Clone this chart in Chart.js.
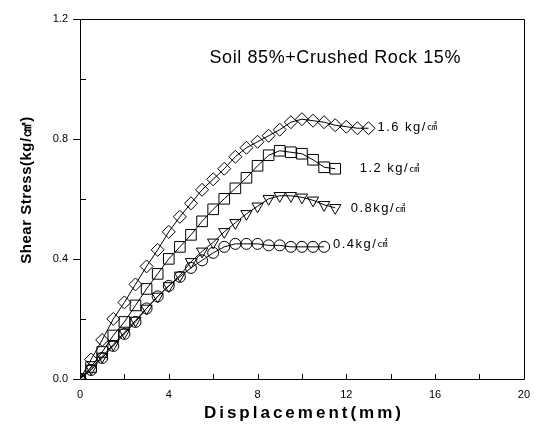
<!DOCTYPE html>
<html>
<head>
<meta charset="utf-8">
<script src="https://cdn.jsdelivr.net/npm/chart.js@4.4.0/dist/chart.umd.min.js"></script>
<style>
  html, body { margin: 0; padding: 0; background: #fff; }
  #wrap { width: 539px; height: 427px; }
</style>
</head>
<body>
<div id="wrap"><canvas id="myChart" width="539" height="427"></canvas></div>
<script>
// data
const dispP16 = [0, 0.5, 1, 1.5, 2, 2.5, 3, 3.5, 4, 4.5, 5, 5.5, 6, 6.5, 7, 7.5, 8, 8.5, 9, 9.5, 10, 10.5, 11, 11.5, 12, 12.5, 13];
const stressP16 = [0, 0.065, 0.13, 0.2, 0.255, 0.315, 0.375, 0.43, 0.49, 0.54, 0.585, 0.63, 0.665, 0.7, 0.74, 0.77, 0.79, 0.81, 0.83, 0.855, 0.865, 0.86, 0.855, 0.845, 0.84, 0.835, 0.835];

const dispP12 = [0, 0.5, 1, 1.5, 2, 2.5, 3, 3.5, 4, 4.5, 5, 5.5, 6, 6.5, 7, 7.5, 8, 8.5, 9, 9.5, 10, 10.5, 11, 11.5];
const stressP12 = [0, 0.04, 0.09, 0.145, 0.19, 0.245, 0.3, 0.35, 0.4, 0.44, 0.48, 0.525, 0.565, 0.6, 0.635, 0.67, 0.71, 0.745, 0.76, 0.755, 0.75, 0.73, 0.705, 0.7];

const dispP08 = [0, 0.5, 1, 1.5, 2, 2.5, 3, 3.5, 4, 4.5, 5, 5.5, 6, 6.5, 7, 7.5, 8, 8.5, 9, 9.5, 10, 10.5, 11, 11.5];
const stressP08 = [0, 0.035, 0.075, 0.115, 0.155, 0.195, 0.235, 0.275, 0.31, 0.345, 0.39, 0.425, 0.455, 0.49, 0.52, 0.55, 0.575, 0.6, 0.61, 0.61, 0.605, 0.595, 0.58, 0.57];

const dispP04 = [0, 0.5, 1, 1.5, 2, 2.5, 3, 3.5, 4, 4.5, 5, 5.5, 6, 6.5, 7, 7.5, 8, 8.5, 9, 9.5, 10, 10.5, 11];
const stressP04 = [0, 0.03, 0.07, 0.11, 0.15, 0.19, 0.235, 0.275, 0.31, 0.34, 0.37, 0.395, 0.42, 0.44, 0.45, 0.45, 0.45, 0.445, 0.445, 0.44, 0.44, 0.44, 0.44];

const xTicks = [0, 4, 8, 12, 16, 20];
const yTicks = [0, 0.4, 0.8, 1.2];

const chartTitle = 'Soil 85%+Crushed Rock 15%';
const xTitle = 'Displacement(mm)';
const yTitle = 'Shear Stress(kg/㎠)';

// label text + where it sits (data coords)
const curveLabels = [
  { text: '1.6 kg/', x: 13.4, y: 0.837 },
  { text: '1.2 kg/', x: 12.6, y: 0.70 },
  { text: '0.8kg/', x: 12.2, y: 0.567 },
  { text: '0.4kg/', x: 11.4, y: 0.448 }
];

function pts(xs, ys) {
  return xs.map((x, i) => ({ x: x, y: ys[i] }));
}

function series(label, xs, ys, style, r, rot) {
  return {
    label: label,
    data: pts(xs, ys),
    borderColor: '#000',
    borderWidth: 1,
    backgroundColor: 'rgba(0,0,0,0)',
    pointStyle: style,
    pointRadius: r,
    pointRotation: rot || 0,
    pointBorderColor: '#000',
    pointBorderWidth: 1,
    pointBackgroundColor: 'rgba(0,0,0,0)',
    tension: 0,
    fill: false
  };
}

const data = {
  datasets: [
    series('1.6', dispP16, stressP16, 'rectRot', 6.5),
    series('1.2', dispP12, stressP12, 'rect', 7.5),
    series('0.8', dispP08, stressP08, 'triangle', 6.5, 180),
    series('0.4', dispP04, stressP04, 'circle', 5.5)
  ]
};

// frame, tick marks and all the text
const decor = {
  id: 'decor',
  afterDatasetsDraw(chart) {
    const ctx = chart.ctx;
    const xs = chart.scales.x, ys = chart.scales.y;
    const a = chart.chartArea;
    ctx.save();
    ctx.strokeStyle = '#000';
    ctx.lineWidth = 1;
    ctx.beginPath();
    ctx.rect(Math.round(a.left) + 0.5, Math.round(a.top) + 0.5, Math.round(a.right - a.left), Math.round(a.bottom - a.top));
    ctx.stroke();

    // y ticks: major outward, minor inward
    ctx.beginPath();
    for (let v = 0; v <= 1.2001; v += 0.2) {
      const py = Math.round(ys.getPixelForValue(v)) + 0.5;
      const major = Math.abs(v / 0.4 - Math.round(v / 0.4)) < 1e-6;
      if (major) { ctx.moveTo(a.left - 7, py); ctx.lineTo(a.left, py); }
      else { ctx.moveTo(a.left, py); ctx.lineTo(a.left + 6, py); }
    }
    // x ticks inward
    for (let v = 0; v <= 20; v += 2) {
      const px = Math.round(xs.getPixelForValue(v)) + 0.5;
      ctx.moveTo(px, a.bottom); ctx.lineTo(px, a.bottom - 5);
    }
    ctx.stroke();

    ctx.fillStyle = '#000';
    ctx.textBaseline = 'middle';

    // title
    ctx.font = '18px "Liberation Sans", Arial, sans-serif';
    ctx.letterSpacing = '0.6px';
    ctx.textAlign = 'center';
    ctx.fillText(chartTitle, xs.getPixelForValue(11.5), ys.getPixelForValue(1.068));

    // curve labels
    ctx.textAlign = 'left';
    curveLabels.forEach(l => {
      const px = xs.getPixelForValue(l.x), py = ys.getPixelForValue(l.y);
      ctx.font = '13px "Liberation Sans", Arial, sans-serif';
      ctx.letterSpacing = '1.5px';
      ctx.fillText(l.text, px, py);
      const w = ctx.measureText(l.text).width;
      ctx.font = '10px "Noto Sans CJK JP", "DejaVu Sans", sans-serif';
      ctx.letterSpacing = '0px';
      ctx.fillText('㎠', px + w, py - 1);
    });

    // axis titles
    ctx.font = 'bold 17px "Liberation Sans", Arial, sans-serif';
    ctx.letterSpacing = '3px';
    ctx.textAlign = 'center';
    ctx.fillText(xTitle, (a.left + a.right) / 2 + 2, 413);

    ctx.translate(27, 190);
    ctx.rotate(-Math.PI / 2);
    ctx.font = 'bold 15px "Liberation Sans", Arial, sans-serif';
    ctx.letterSpacing = '0.5px';
    ctx.fillText(yTitle, 0, 0);
    ctx.restore();
  }
};

const config = {
  type: 'line',
  data,
  options: {
    responsive: false,
    animation: false,
    events: [],
    layout: { padding: { top: 15, right: 14, left: 0, bottom: 0 } },
    plugins: { legend: { display: false }, tooltip: { enabled: false }, title: { display: false } },
    scales: {
      x: {
        type: 'linear',
        min: 0, max: 20,
        afterBuildTicks: s => { s.ticks = xTicks.map(v => ({ value: v })); },
        afterFit: s => { s.height = 48; },
        grid: { display: false, drawTicks: false },
        border: { display: false },
        ticks: {
          padding: 9,
          color: '#000',
          font: { family: '"Liberation Sans", Arial, sans-serif', size: 11 },
          maxRotation: 0,
          callback: v => String(v)
        }
      },
      y: {
        type: 'linear',
        min: 0, max: 1.2,
        afterBuildTicks: s => { s.ticks = yTicks.map(v => ({ value: v })); },
        afterFit: s => { s.width = 80; },
        grid: { display: false, drawTicks: false },
        border: { display: false },
        ticks: {
          padding: 12,
          color: '#000',
          font: { family: '"Liberation Sans", Arial, sans-serif', size: 11 },
          callback: v => Number(v).toFixed(1)
        }
      }
    }
  },
  plugins: [decor]
};

const myChart = new Chart(document.getElementById('myChart'), config);
</script>
</body>
</html>
